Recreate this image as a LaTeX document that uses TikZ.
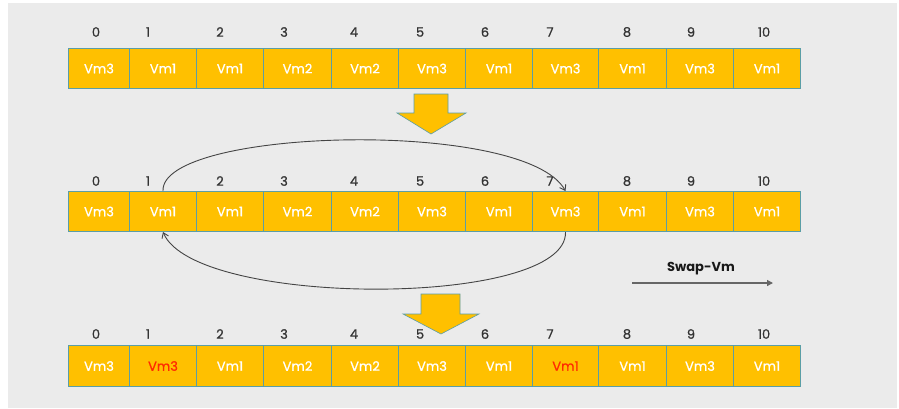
\documentclass[tikz,border=0pt]{standalone}
\usepackage{fontspec}
\setmainfont{Poppins}
\newfontfamily\medfont[FakeBold=0.8]{Poppins}
\usetikzlibrary{arrows.meta}
\definecolor{bg}{HTML}{EBEBEB}
\definecolor{cellfill}{HTML}{FFC000}
\definecolor{cellline}{HTML}{5B9EA6}
\definecolor{hot}{HTML}{FF2A00}
\definecolor{ink}{HTML}{333333}
\definecolor{arc}{HTML}{444444}

\begin{document}
\begin{tikzpicture}[x=1pt,y=-1pt,
  cell/.style={draw=cellline, line width=1pt, fill=cellfill, inner sep=0pt,
    anchor=north west, text=white, font=\medfont\fontsize{13}{14}\selectfont},
  idx/.style={text=ink, inner sep=0pt, font=\medfont\fontsize{13}{14}\selectfont},
  blockarrow/.style={fill=cellfill, draw=cellline, line width=0.6pt, line join=miter},
  swaparc/.style={draw=arc, line width=0.9pt, -{Straight Barb[length=5pt,width=7pt]}},
  legendarrow/.style={draw=black!60, line width=1.3pt, -{Triangle[length=6pt,width=6pt]}}
]
% canvas
\useasboundingbox (0,0) rectangle (899,408);
\fill[white] (0,0) rectangle (899,408);
\fill[bg] (8,3) rectangle (897,408);

% three rows of VM slots
\foreach \row/\top/\h in {1/48/40, 2/191/40} {
  \foreach \l/\r/\t [count=\i from 0] in
    {68/129/Vm3, 129/196/Vm1, 196/263/Vm1, 263/331/Vm2, 331/398/Vm2, 398/465/Vm3,
     465/532/Vm1, 532/598/Vm3, 598/666/Vm1, 666/733/Vm3, 733/800/Vm1} {
    \pgfmathsetmacro\w{\r-\l}
    \node[cell, minimum width=\w pt, minimum height=\h pt] (r\row c\i) at (\l,\top) {\t};
  }
}
\foreach \l/\r/\t [count=\i from 0] in
  {68/129/Vm3, 129/196/{\textcolor{hot}{Vm3}}, 196/263/Vm1, 263/331/Vm2, 331/398/Vm2, 398/465/Vm3,
   465/532/Vm1, 532/598/{\textcolor{hot}{Vm1}}, 598/666/Vm1, 666/733/Vm3, 733/800/Vm1} {
  \pgfmathsetmacro\w{\r-\l}
  \node[cell, minimum width=\w pt, minimum height=41pt] (r3c\i) at (\l,345) {\t};
}

% slot indices above each row
\foreach \row/\y in {1/32, 2/181, 3/334} {
  \foreach \x/\n in {96/0, 148/1, 220/2, 284/3, 354/4, 420/5, 485/6, 550/7, 627/8, 691/9, 764/10} {
    \node[idx] (i\row-\n) at (\x,\y) {\n};
  }
}

% block arrows between rows
\draw[blockarrow] (414,94) -- (448,94) -- (448,113) -- (466,113) -- (431,134)
  -- (397,113) -- (414,113) -- cycle;
\draw[blockarrow] (421,294) -- (460,294) -- (460,314) -- (479,314) -- (441,334)
  -- (403,314) -- (421,314) -- cycle;

% swap of slots 1 and 7
\draw[swaparc] (r2c1.north) .. controls (160,128) and (525,118) .. (r2c7.north);
\draw[swaparc] (r2c7.south) .. controls (568,308) and (195,308) .. (r2c1.south);

% legend
\node[text=black!90, font=\fontsize{13}{14}\selectfont\bfseries] (lg) at (701,269) {Swap-Vm};
\coordinate (la) at (632,283);
\coordinate (lb) at (773,283);
\draw[legendarrow] (la) -- (lb);
\end{tikzpicture}
\end{document}
